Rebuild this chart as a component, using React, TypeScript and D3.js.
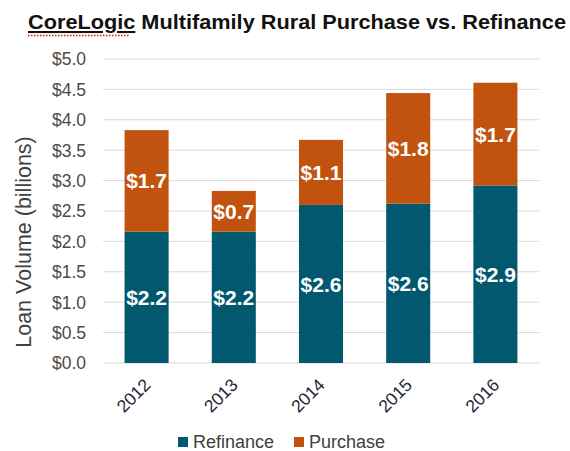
import React from "react";
import * as d3 from "d3";

const years = ["2012", "2013", "2014", "2015", "2016"];
const refinance = [2.16, 2.16, 2.6, 2.62, 2.92];
const purchase = [1.67, 0.67, 1.07, 1.82, 1.69];
const yTicks = [0, 0.5, 1, 1.5, 2, 2.5, 3, 3.5, 4, 4.5, 5];
const seriesNames = ["Refinance", "Purchase"];
const seriesColors = ["#02596F", "#C2530F"];

const W = 570;
const H = 451;
const FONT = "'Liberation Sans', Arial, sans-serif";

export default function App() {
  const rows = years.map((y, i) => ({ year: y, Refinance: refinance[i], Purchase: purchase[i] }));
  const x = d3.scaleBand().domain(years).range([103, 539]).paddingInner(0.495).paddingOuter(0.2475);
  const y = d3.scaleLinear().domain([0, 5]).range([363, 59]);
  const stack = d3.stack<any>().keys(seriesNames)(rows as any);
  const fmt = (v: number) => "$" + d3.format(".1f")(v);

  return (
    <svg width={W} height={H} style={{ position: "absolute", left: 0, top: 0, background: "#fff" }} fontFamily={FONT}>
      {/* title */}
      <text x={28} y={29} fontSize={20.5} fontWeight="bold" fill="#111" textLength={538} lengthAdjust="spacingAndGlyphs">
        <tspan textDecoration="underline">CoreLogic</tspan>
        <tspan> Multifamily Rural Purchase vs. Refinance</tspan>
      </text>
      <line x1={28} x2={130} y1={35.5} y2={35.5} stroke="#d02020" strokeWidth={1.3} strokeDasharray="1.5,1.5" />

      {/* gridlines */}
      {yTicks.map((t) => (
        <line key={t} x1={103} x2={539} y1={y(t)} y2={y(t)} stroke="#d9d9d9" strokeWidth={1} />
      ))}
      {/* y tick labels */}
      {yTicks.map((t) => (
        <text key={"l" + t} x={86} y={y(t)} dy="0.36em" textAnchor="end" fontSize={17.5} fill="#4a4a4a">
          {"$" + d3.format(".1f")(t)}
        </text>
      ))}
      {/* y axis title */}
      <text transform={`translate(31,242) rotate(-90)`} textAnchor="middle" fontSize={21.5} fill="#404040">
        Loan Volume (billions)
      </text>

      {/* bars */}
      {stack.map((s, si) => (
        <g key={s.key}>
          {s.map((d: any, i: number) => (
            <g key={i}>
              <rect
                x={x(years[i])!}
                width={x.bandwidth()}
                y={y(d[1])}
                height={y(d[0]) - y(d[1])}
                fill={seriesColors[si]}
              />
              <text
                x={x(years[i])! + x.bandwidth() / 2}
                y={(y(d[0]) + y(d[1])) / 2}
                dy="0.36em"
                textAnchor="middle"
                fontSize={21}
                fontWeight="bold"
                fill="#fff"
              >
                {fmt(d[1] - d[0])}
              </text>
            </g>
          ))}
        </g>
      ))}

      {/* x labels */}
      {years.map((yr) => (
        <text
          key={yr}
          transform={`translate(${x(yr)! + x.bandwidth() / 2 + 5},386) rotate(-45)`}
          textAnchor="end"
          fontSize={17.5}
          fill="#222838"
        >
          {yr}
        </text>
      ))}

      {/* legend */}
      <rect x={178} y={437} width={10} height={10} fill={seriesColors[0]} />
      <text x={193} y={442} dy="0.36em" fontSize={18} fill="#404040">{seriesNames[0]}</text>
      <rect x={294} y={437} width={10} height={10} fill={seriesColors[1]} />
      <text x={309} y={442} dy="0.36em" fontSize={18} fill="#404040">{seriesNames[1]}</text>
    </svg>
  );
}
